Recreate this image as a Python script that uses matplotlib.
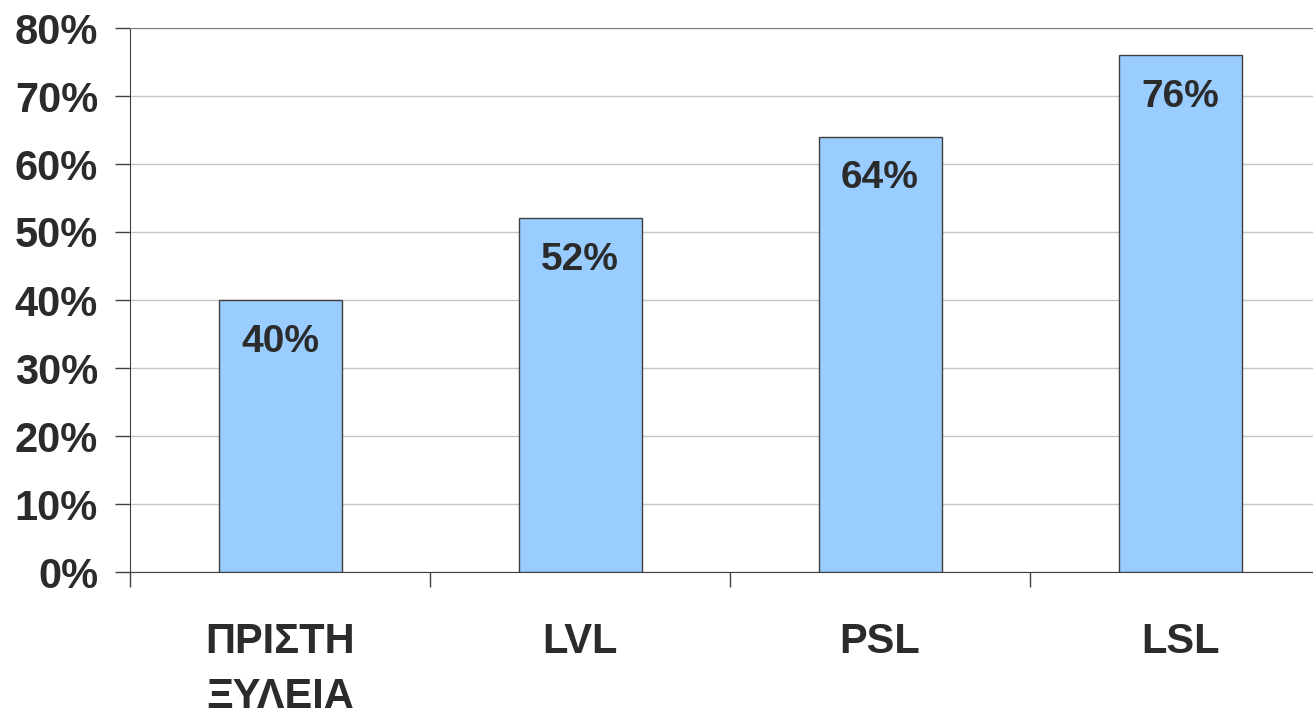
import matplotlib
matplotlib.use("Agg")
import matplotlib.pyplot as plt
import numpy as np

# data
categories = ['ΠΡΙΣΤΗ\nΞΥΛΕΙΑ', 'LVL', 'PSL', 'LSL']
values = [40, 52, 64, 76]
y_ticks = [0, 10, 20, 30, 40, 50, 60, 70, 80]

plt.rcParams['font.family'] = ['Liberation Sans', 'DejaVu Sans']
plt.rcParams['font.weight'] = 'bold'
text_color = '#2b2b2b'

fig = plt.figure(figsize=(13.13, 7.16), dpi=100)
# axes spans 4 categories of ~300 px each, starting at x=130 px
ax = fig.add_axes([130 / 1313, 1 - 572 / 716, 1200 / 1313, 544 / 716])

x = np.arange(len(categories))
bars = ax.bar(x, values, width=0.41, color='#99CCFF', edgecolor='#404040',
              linewidth=1.0, zorder=3)

for xi, v in zip(x, values):
    ax.annotate(f'{v}%', (xi, v), xytext=(0, -30), textcoords='offset points',
                ha='center', va='center', fontsize=28, fontweight='bold',
                color=text_color, zorder=4)

ax.set_xlim(-0.5, len(categories) - 0.5)
ax.set_ylim(0, 80)

ax.set_yticks(y_ticks)
ax.set_yticklabels([f'{t}%' for t in y_ticks])
ax.tick_params(axis='y', length=11, width=1, color='#404040', pad=12,
               labelsize=30, labelcolor=text_color)

# boundary ticks (major) and category labels (minor)
ax.set_xticks(np.arange(len(categories) + 1) - 0.5)
ax.set_xticklabels([])
ax.tick_params(axis='x', which='major', length=11, width=1, color='#404040')
ax.set_xticks(x, minor=True)
ax.set_xticklabels(categories, minor=True, linespacing=1.5)
ax.tick_params(axis='x', which='minor', length=0, pad=36,
               labelsize=30, labelcolor=text_color)

ax.yaxis.grid(True, color='#c4c4c4', linewidth=1, zorder=0)
ax.set_axisbelow(True)

ax.spines['right'].set_visible(False)
ax.spines['top'].set_color('#808080')
ax.spines['left'].set_color('#404040')
ax.spines['bottom'].set_color('#404040')

fig.savefig('out.png', dpi=100)
